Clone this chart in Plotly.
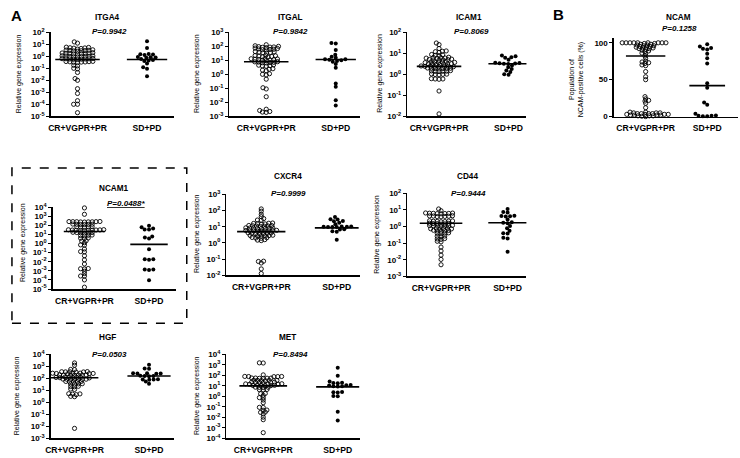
import math
import plotly.graph_objects as go

W, H = 740, 458
FONT = "Liberation Sans, Arial, sans-serif"

GROUPS = ["CR+VGPR+PR", "SD+PD"]
GENES = ["ITGA4", "ITGAL", "ICAM1", "NCAM", "NCAM1", "CXCR4", "CD44", "HGF", "MET"]
P_TEXT = ["P=0.9942", "P=0.9842", "P=0.8069", "P=0.1258", "<u>P=0.0488*</u>",
          "P=0.9999", "P=0.9444", "P=0.0503", "P=0.8494"]

# ---------------- data ----------------
ITGA4_CR = [16, 12.6,
            5.8, 5.5, 5.2, 5.0, 4.8, 4.5, 4.0,
            3.5, 3.3, 3.2, 3.1, 3.0, 2.9, 2.8, 2.6,
            2.0, 1.9, 1.85, 1.8, 1.75, 1.7, 1.65, 1.6, 1.55,
            1.1, 1.08, 1.05, 1.0, 1.0, 0.98, 0.95, 0.92, 0.9,
            0.66, 0.64, 0.63, 0.62, 0.6, 0.6, 0.58, 0.57, 0.55,
            0.38, 0.37, 0.36, 0.35, 0.34, 0.33, 0.32, 0.3,
            0.18, 0.16, 0.1, 0.09, 0.045, 0.014, 0.01, 0.002, 8e-4, 2e-4, 1e-4, 1e-4, 2e-5]
ITGA4_SD = [18, 5.0, 1.6, 1.5, 1.4, 1.3, 0.9, 0.85, 0.8, 0.75, 0.6, 0.5, 0.45, 0.4, 0.25, 0.12, 0.09, 0.022]
ITGA4_MED = [0.55, 0.55]

ITGAL_CR = [130,
            110, 100, 95, 90, 88, 85, 80, 75,
            70, 65, 62, 60, 58, 55,
            42, 40, 38, 36, 35, 33,
            23, 22, 21, 20, 19, 18, 17,
            13.5, 13, 12.5, 12, 11.5, 11, 10.5, 10, 9.5,
            8.0, 7.8, 7.5, 7.2, 7.0, 6.8, 6.5,
            4.8, 4.5, 4.2, 4.0, 3.8,
            2.5, 2.3, 2.0, 1.8,
            1.1, 1.0, 0.9,
            0.45, 0.11, 0.09, 0.025,
            0.0032, 0.0026, 0.0022, 0.002, 0.0019]
ITGAL_SD = [170, 160, 55, 25, 18, 15, 12, 12, 11, 10, 9, 8, 5.5, 3, 0.22, 0.13, 0.014, 0.006]
ITGAL_MED = [8, 11.5]

ICAM1_CR = [31, 26, 17, 13, 12.5, 12, 11,
            8.8, 8.5, 8.0, 7.8,
            6.5, 6.3, 6.2, 6.0, 5.9, 5.8,
            5.3, 5.1, 5.0, 4.9, 4.8, 4.7,
            4.0, 3.9, 3.85, 3.8, 3.7, 3.65, 3.6,
            3.2, 3.15, 3.1, 3.05, 3.0, 2.95, 2.9,
            2.5, 2.45, 2.4, 2.4, 2.35, 2.35, 2.3, 2.3,
            2.0, 1.95, 1.92, 1.9, 1.88, 1.85, 1.8,
            1.5, 1.45, 1.42, 1.4, 1.38, 1.35,
            1.05, 1.02, 1.0, 0.98, 0.95,
            0.62, 0.6, 0.6, 0.58,
            0.16, 0.013]
ICAM1_SD = [7.8, 7.2, 6.5, 6.2, 5.0, 3.6, 3.5, 3.4, 3.3, 3.2, 3.1, 2.6, 2.2, 1.8, 1.5, 1.3, 1.0, 0.95]
ICAM1_MED = [2.4, 3.2]

NCAM_CR = [100, 100, 100, 100, 100, 100, 100, 100, 100, 99, 99, 98, 98,
           97, 97, 96, 96, 95, 95, 94, 94,
           93, 93, 92, 92, 91, 90, 89, 88,
           86, 85, 82, 79,
           75, 74, 73, 72, 70, 69,
           61, 54, 50,
           27, 24, 22, 21, 18, 12,
           6, 6, 5, 5, 5, 4, 4, 4, 4, 3, 3, 3, 3, 2, 2, 2, 2, 1, 1, 1, 0.5, 0]
NCAM_SD = [98, 95, 93, 92, 91, 85, 79, 72, 45, 39, 19, 16, 4, 1.5, 1, 1, 0.5, 0.5]
NCAM_MED = [82, 42]

NCAM1_CR = [8000, 1600,
            250, 240, 230, 260, 245, 235, 255, 225, 250,
            130, 125, 120, 135, 128, 122,
            65, 60, 70, 62, 68,
            30, 28, 32, 27, 29, 31, 26, 30, 28, 33,
            16, 15, 17, 14, 16, 15,
            8, 7.5, 8.5, 7,
            4, 3.5, 3.8,
            2, 1.8, 1.2, 0.65, 0.7, 0.25, 0.12, 0.13, 0.045, 0.016, 0.0056,
            0.0017, 0.0016, 0.0018, 0.0009, 0.0005, 0.00026, 0.00027, 0.0001, 1.6e-5]
NCAM1_SD = [90, 60, 45, 34, 34, 6, 4.5, 3.5, 0.23, 0.019, 0.016, 0.019, 0.0014, 0.0012, 0.0014, 9e-5]
NCAM1_MED = [21, 0.8]

CXCR4_CR = [126, 91, 58, 42, 32, 26, 25,
            17, 16.5, 16, 15.5, 15, 14.5,
            12, 11.8, 11.5, 11.2, 11, 10.8, 10.5,
            8.6, 8.4, 8.3, 8.2, 8.0, 7.9, 7.8, 7.7,
            6.0, 5.9, 5.8, 5.7, 5.6, 5.5, 5.4, 5.3, 5.2,
            4.2, 4.1, 4.0, 3.9, 3.8, 3.7, 3.6,
            3.0, 2.9, 2.85, 2.8, 2.75, 2.7,
            2.2, 2.1, 2.0, 1.95,
            1.6, 1.5, 1.4,
            0.075, 0.072, 0.058, 0.025, 0.013]
CXCR4_SD = [40, 29, 28, 23, 22, 18, 14.5, 10.5, 10.2, 10, 10, 9.8, 9.6, 9.5, 7, 6.8, 5.2, 5.0, 1.6]
CXCR4_MED = [5, 8.5]

CD44_CR = [11.5, 9,
           6.6, 6.4, 6.3, 6.2, 6.1, 6.0, 6.5, 5.9,
           4.5, 4.4, 4.3, 4.2, 4.1, 4.0, 3.9,
           2.2, 2.15, 2.1, 2.05, 2.0, 1.95, 2.25,
           1.55, 1.5, 1.5, 1.45, 1.6, 1.4,
           1.15, 1.12, 1.1, 1.08, 1.05, 1.0, 1.18,
           0.8, 0.78, 0.76, 0.74, 0.72, 0.7,
           0.58, 0.56, 0.54, 0.52, 0.6,
           0.4, 0.39, 0.37, 0.42,
           0.27, 0.26, 0.25,
           0.18, 0.17, 0.19,
           0.13, 0.12,
           0.058, 0.034, 0.019, 0.0105, 0.005]
CD44_SD = [11.5, 7.5, 7.0, 4.5, 4.3, 4.2, 4.0, 2.7, 1.8, 1.7, 1.6, 1.1, 0.8, 0.56, 0.4, 0.38, 0.21, 0.19, 0.03]
CD44_MED = [1.6, 1.7]

HGF_CR = [1950, 1250, 560, 540,
          370, 360, 355, 350, 345, 340,
          270, 265, 260, 255, 250, 245, 275,
          195, 190, 185, 180, 200, 188, 192,
          130, 125, 123, 120, 118, 115, 128, 110,
          88, 85, 84, 82, 80, 86, 83,
          56, 54, 52, 50, 55,
          36, 35, 33, 34,
          22, 21, 20,
          13, 12,
          5.3, 5.1, 4.9, 4.4, 3.2, 3.0,
          0.0068]
HGF_SD = [1400, 680, 650, 270, 265, 260, 255, 250, 165, 160, 158, 155, 85, 83, 80, 78, 54, 36]
HGF_MED = [115, 160]

MET_CR = [1580, 1520, 112,
          80, 79, 78, 77, 76,
          56, 55, 54, 53, 57, 52,
          34, 33, 32, 31, 35, 33.5,
          23, 22, 21.5, 21, 22.5, 20.5,
          15.5, 15, 14.5, 14, 16,
          12, 11.5, 11, 10.8, 11.2, 10.5,
          7.6, 7.4, 7.2, 7.0,
          4.6, 4.4, 4.2,
          1.9, 1.8, 1.25, 0.76, 0.74, 0.45, 0.25,
          0.09, 0.088, 0.05, 0.048, 0.032, 0.03, 0.021, 0.0105, 0.006, 0.00035]
MET_SD = [540, 91, 27, 20, 19, 18, 12, 11.5, 11, 9.5, 9.3, 9, 2.6, 2.5, 2.4, 1.1, 1.05, 0.035, 0.005]
MET_MED = [10, 8]

# log10 exponent ranges of the y axes (NCAM is linear, in %)
Y_RANGES = [(-5, 2), (-3, 3), (-2, 2), (0, 107), (-5, 4), (-2, 3), (-3, 2), (-3, 4), (-4, 4)]
SERIES = [(ITGA4_CR, ITGA4_SD, ITGA4_MED), (ITGAL_CR, ITGAL_SD, ITGAL_MED),
          (ICAM1_CR, ICAM1_SD, ICAM1_MED), (NCAM_CR, NCAM_SD, NCAM_MED),
          (NCAM1_CR, NCAM1_SD, NCAM1_MED), (CXCR4_CR, CXCR4_SD, CXCR4_MED),
          (CD44_CR, CD44_SD, CD44_MED), (HGF_CR, HGF_SD, HGF_MED), (MET_CR, MET_SD, MET_MED)]

# ---------------- layout geometry (pixels) ----------------
GEOM = [
    dict(L=46, R=170, T=27, B=113, c0=73, c1=143, tt=(103, 12), pp=(105, 26), yt=(14, 69)),
    dict(L=226, R=357, T=27, B=113, c0=263, c1=333, tt=(287, 12), pp=(287, 26), yt=(194, 69)),
    dict(L=405, R=525, T=27, B=113, c0=437, c1=507, tt=(467, 12), pp=(470, 26), yt=(378, 69)),
    dict(L=613, R=738, T=32.4, B=113.3, c0=645, c1=707, tt=(678, 12), pp=(679, 23), yt=(575, 76)),
    dict(L=48, R=172, T=206, B=290, c0=80, c1=145, tt=(110, 187), pp=(122, 202), yt=(18, 242)),
    dict(L=223, R=357, T=193, B=276, c0=258, c1=334, tt=(285, 175), pp=(285, 192), yt=(194, 233)),
    dict(L=405, R=525, T=192, B=277, c0=439, c1=506, tt=(466, 175), pp=(467, 192), yt=(375, 234)),
    dict(L=46, R=170, T=357, B=443, c0=70, c1=145, tt=(103, 340), pp=(105, 357), yt=(13, 399)),
    dict(L=223, R=357, T=357, B=443, c0=260, c1=335, tt=(284, 340), pp=(287, 357), yt=(194, 399)),
]

# elliptical collision radii (px) of the Prism-like scatter: (horizontal, vertical)
COLL = [(3.9, 2.3), (4.4, 3.2)]


def swarm(ypx, sx, sy):
    """Beeswarm x offsets (px); points collide inside an ellipse of radii sx, sy."""
    order = sorted(range(len(ypx)), key=lambda i: ypx[i])
    placed = []
    xs = [0.0] * len(ypx)

    def free(c, y):
        for px, py in placed:
            if ((c - px) / sx) ** 2 + ((y - py) / sy) ** 2 < 1 - 1e-6:
                return False
        return True

    for i in order:
        y = ypx[i]
        cands = [0.0]
        for (px, py) in placed:
            dy = abs(py - y)
            if dy < sy:
                dx = sx * math.sqrt(1 - (dy / sy) ** 2)
                cands += [px - dx, px + dx]
        cands.sort(key=lambda c: (abs(c), c))
        for c in cands:
            if free(c, y):
                xs[i] = c
                break
        placed.append((xs[i], y))
    return xs


def px2x(p):
    return p / W


def px2y(p):
    return 1 - p / H


fig = go.Figure()
annotations = []

for k, (gene, g, (cr, sd, med), yr) in enumerate(zip(GENES, GEOM, SERIES, Y_RANGES)):
    n = "" if k == 0 else str(k + 1)
    xa, ya = "x" + n, "y" + n
    is_log = gene != "NCAM"
    unit = g["c1"] - g["c0"]
    xr = [(g["L"] - g["c0"]) / unit, (g["R"] - g["c0"]) / unit]
    hpx = g["B"] - g["T"]

    def ypix(v):
        if is_log:
            return (math.log10(v) - yr[0]) / (yr[1] - yr[0]) * hpx
        return (v - yr[0]) / (yr[1] - yr[0]) * hpx

    for gi, vals in enumerate([cr, sd]):
        offs = swarm([ypix(v) for v in vals], *COLL[gi])
        xs = [gi + o / unit for o in offs]
        if gi == 0:
            marker = dict(symbol="circle-open", size=4.2, color="black", line=dict(width=0.9, color="black"))
        else:
            marker = dict(symbol="circle", size=4.0, color="black", line=dict(width=0))
        fig.add_trace(go.Scatter(x=xs, y=vals, mode="markers", marker=marker,
                                 xaxis=xa, yaxis=ya, showlegend=False, cliponaxis=False,
                                 hoverinfo="skip"))
        hw = 0.32 if gi == 0 else 0.29
        fig.add_trace(go.Scatter(x=[gi - hw, gi + hw], y=[med[gi], med[gi]], mode="lines",
                                 line=dict(color="black", width=1.6),
                                 xaxis=xa, yaxis=ya, showlegend=False, cliponaxis=False,
                                 hoverinfo="skip"))

    xdom = [px2x(g["L"]), px2x(g["R"])]
    ydom = [px2y(g["B"]), px2y(g["T"])]
    fig.update_layout(**{
        ("xaxis" + n): dict(domain=xdom, range=xr, anchor=ya, tickvals=[0, 1], ticktext=GROUPS,
                            showline=True, linecolor="black", linewidth=1.5, ticks="outside",
                            ticklen=3, tickcolor="rgba(0,0,0,0)", showgrid=False, zeroline=False,
                            tickfont=dict(family=FONT, size=8.6, color="black", weight="bold"),
                            fixedrange=True),
    })
    if is_log:
        exps = list(range(yr[0], yr[1] + 1))
        yaxis = dict(type="log", range=[yr[0], yr[1]], tickvals=[10.0 ** e for e in exps],
                     ticktext=["10<sup>%d</sup>" % e for e in exps])
    else:
        yaxis = dict(type="linear", range=[yr[0], yr[1]], tickvals=[0, 50, 100],
                     ticktext=["0", "50", "100"])
    yaxis.update(domain=ydom, anchor=xa, showline=True, linecolor="black", linewidth=1.5,
                 ticks="outside", ticklen=3, tickwidth=1, tickcolor="black", showgrid=False,
                 zeroline=False, tickfont=dict(family=FONT, size=8, color="black", weight="bold"),
                 fixedrange=True)
    fig.update_layout(**{("yaxis" + n): yaxis})

    annotations.append(dict(x=px2x(g["tt"][0]), y=px2y(g["tt"][1]), text="<b>%s</b>" % gene,
                            font=dict(family=FONT, size=8.2, color="black")))
    annotations.append(dict(x=px2x(g["pp"][0]), y=px2y(g["pp"][1]), text="<b><i>%s</i></b>" % P_TEXT[k],
                            font=dict(family=FONT, size=8, color="black")))
    ytxt = "Relative gene expression" if is_log else "Population of<br>NCAM-positive cells (%)"
    annotations.append(dict(x=px2x(g["yt"][0]), y=px2y(g["yt"][1]), text=ytxt, textangle=-90,
                            font=dict(family=FONT, size=7, color="black")))

annotations.append(dict(x=px2x(12), y=px2y(10), text="<b>A</b>", font=dict(family=FONT, size=15, color="black")))
annotations.append(dict(x=px2x(557), y=px2y(9), text="<b>B</b>", font=dict(family=FONT, size=15, color="black")))

for a in annotations:
    a.update(xref="paper", yref="paper", showarrow=False, xanchor="center", yanchor="middle")

fig.update_layout(
    width=W, height=H, margin=dict(l=0, r=0, t=0, b=0),
    paper_bgcolor="white", plot_bgcolor="rgba(0,0,0,0)",
    showlegend=False, annotations=annotations, hovermode=False,
    shapes=[dict(type="rect", xref="paper", yref="paper",
                 x0=px2x(7), x1=px2x(183), y0=px2y(325), y1=px2y(166),
                 line=dict(color="black", width=1.5, dash="dash"))],
)

fig.write_html("out.html", config={"displayModeBar": False, "staticPlot": True})

# remove the browser's default page margin so the figure sits at the window origin
with open("out.html", "r", encoding="utf-8") as f:
    html = f.read()
html = html.replace("<head>", "<head><style>html,body{margin:0;padding:0;overflow:hidden;}</style>", 1)
with open("out.html", "w", encoding="utf-8") as f:
    f.write(html)
